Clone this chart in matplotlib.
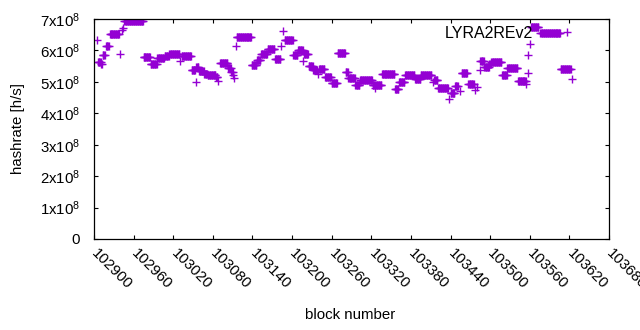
import numpy as np
import matplotlib
matplotlib.use("Agg")
import matplotlib.pyplot as plt

plt.rcParams['font.family'] = ['Liberation Sans', 'DejaVu Sans']
plt.rcParams['mathtext.fontset'] = 'custom'
plt.rcParams['mathtext.rm'] = 'Liberation Sans'
plt.rcParams['mathtext.it'] = 'Liberation Sans:italic'

# runs of blocks sharing the same estimated hashrate (x10^8 h/s), end inclusive
run_start = [102904, 102906, 102911, 102913, 102918, 102924, 102939, 102942, 102944, 102946,
             102975, 102986, 102996, 103007, 103014, 103030, 103033, 103048, 103054, 103055,
             103059, 103067, 103072, 103085, 103088, 103091, 103103, 103108, 103111, 103112,
             103115, 103116, 103139, 103147, 103153, 103163, 103174, 103183, 103186, 103189,
             103202, 103209, 103217, 103218, 103225, 103232, 103240, 103241, 103250, 103260,
             103269, 103281, 103285, 103296, 103303, 103322, 103325, 103326, 103336, 103356,
             103362, 103371, 103386, 103395, 103414, 103415, 103421, 103438, 103440, 103447,
             103454, 103457, 103467, 103477, 103480, 103484, 103485, 103491, 103499, 103502,
             103518, 103526, 103542, 103555, 103557, 103558, 103560, 103562, 103576, 103607,
             103624]
run_end = [102904, 102910, 102912, 102916, 102922, 102938, 102939, 102942, 102944, 102974,
           102985, 102995, 103006, 103013, 103029, 103030, 103047, 103053, 103054, 103058,
           103066, 103071, 103084, 103087, 103088, 103102, 103107, 103110, 103111, 103112,
           103115, 103138, 103146, 103152, 103162, 103173, 103182, 103183, 103186, 103201,
           103208, 103216, 103217, 103224, 103231, 103237, 103240, 103249, 103259, 103268,
           103280, 103284, 103295, 103302, 103321, 103324, 103325, 103335, 103355, 103361,
           103370, 103385, 103394, 103411, 103414, 103420, 103436, 103438, 103446, 103451,
           103454, 103465, 103475, 103477, 103480, 103484, 103490, 103498, 103501, 103517,
           103525, 103541, 103554, 103555, 103557, 103558, 103560, 103573, 103606, 103622,
           103624]
run_rate = [6.32, 5.62, 5.56, 5.84, 6.14, 6.51, 5.88, 6.64, 6.72, 6.93,
            5.78, 5.58, 5.76, 5.82, 5.89, 5.67, 5.81, 5.37, 5.00, 5.47,
            5.33, 5.26, 5.21, 5.14, 5.03, 5.60, 5.44, 5.31, 5.21, 5.13,
            6.14, 6.43, 5.55, 5.71, 5.88, 6.04, 5.72, 6.14, 6.62, 6.32,
            5.84, 6.00, 5.65, 5.88, 5.50, 5.37, 5.26, 5.40, 5.15, 4.96,
            5.93, 5.31, 5.12, 4.91, 5.05, 4.91, 4.80, 4.91, 5.24, 4.76,
            5.00, 5.21, 5.10, 5.21, 5.00, 5.05, 4.80, 4.44, 4.65, 4.87,
            4.70, 5.29, 4.92, 4.73, 4.84, 5.37, 5.65, 5.47, 5.58, 5.63,
            5.21, 5.44, 5.02, 4.94, 5.28, 5.84, 6.19, 6.75, 6.54, 5.40,
            5.08]

xticks = list(range(102900, 103681, 60))
yticks = [0, 1e8, 2e8, 3e8, 4e8, 5e8, 6e8, 7e8]
ytick_labels = ["0"] + [r"%dx$10^{8}$" % i for i in range(1, 8)]

blocks = np.concatenate([np.arange(s, e + 1) for s, e in zip(run_start, run_end)])
rates = np.concatenate([np.full(e - s + 1, r) for s, e, r in zip(run_start, run_end, run_rate)]) * 1e8

fig = plt.figure(figsize=(6.4, 3.3), dpi=100)
ax = fig.add_axes([94 / 640, 1 - 239 / 330, 515 / 640, 220 / 330])

ax.plot(blocks, rates, '+', color='#9400d3', markersize=5.2, markeredgewidth=1.0,
        label='LYRA2REv2')

ax.set_xlim(102900, 103680)
ax.set_ylim(0, 7e8)
ax.set_xticks(xticks)
ax.set_xticklabels([str(t) for t in xticks], rotation=-45, ha='left', va='center',
                   rotation_mode='anchor')
ax.set_yticks(yticks)
ax.set_yticklabels(ytick_labels)
ax.tick_params(direction='in', top=True, right=True, length=3, width=0.8,
               labelsize=10.8)
ax.tick_params(axis='y', pad=10)
ax.tick_params(axis='x', pad=9)
for sp in ax.spines.values():
    sp.set_linewidth(0.9)

ax.legend(loc='upper right', bbox_to_anchor=(0.9495, 0.968), frameon=False,
          markerfirst=False, borderaxespad=0, borderpad=0, handletextpad=1.12,
          fontsize=11.5)

fig.text(18 / 640, 1 - 129 / 330, 'hashrate [h/s]', rotation=90, ha='center',
         va='center', fontsize=10.8)
fig.text(350 / 640, 1 - 315 / 330, 'block number', ha='center', va='center',
         fontsize=10.8)

fig.savefig('out.png', dpi=100)
